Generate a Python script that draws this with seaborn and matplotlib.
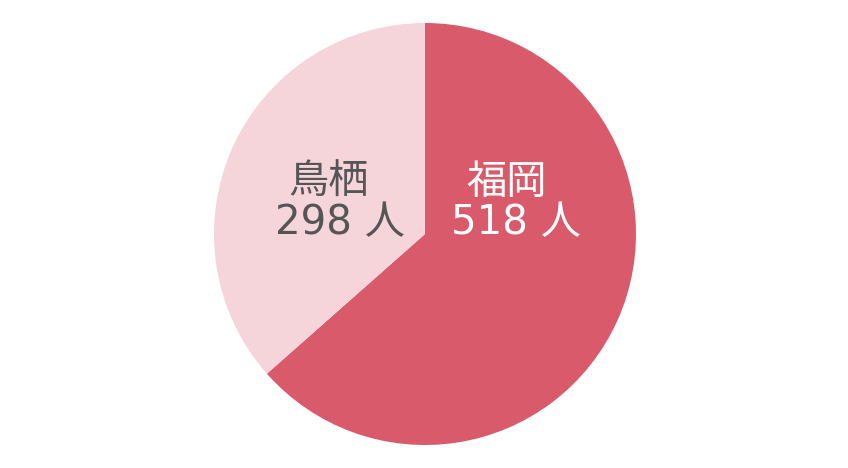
import matplotlib
matplotlib.use('Agg')
import matplotlib.pyplot as plt
import seaborn as sns

# Data
cities = ['福岡', '鳥栖']
counts = [518, 298]
colors = ['#D95B6B', '#F5D5DA']
text_colors = ['white', '#555555']

sns.set_theme(style='white')
plt.rcParams['font.family'] = ['Noto Sans CJK JP', 'DejaVu Sans']

fig = plt.figure(figsize=(8.48, 4.68), dpi=100)
fig.patch.set_facecolor('white')
# square axes holding the pie
ax = fig.add_axes([214 / 848, 23 / 468, 422 / 848, 422 / 468])
ax.pie(counts, colors=colors, startangle=90, counterclock=False,
       radius=1, wedgeprops=dict(linewidth=0))
ax.set_xlim(-1, 1)
ax.set_ylim(-1, 1)
ax.set_aspect('equal')
ax.axis('off')

# label positions (data coords inside each wedge)
name_pos = [(0.385, 0.245), (-0.455, 0.245)]
num_pos = [(0.43, 0.05), (-0.405, 0.05)]
for i in range(len(cities)):
    ax.text(*name_pos[i], cities[i], ha='center', va='center',
            fontsize=29, color=text_colors[i])
    ax.text(*num_pos[i], f'{counts[i]} 人', ha='center', va='center',
            fontsize=29, color=text_colors[i],
            family=['DejaVu Sans', 'Noto Sans CJK JP'])

fig.savefig('out.png', dpi=100, facecolor='white')
